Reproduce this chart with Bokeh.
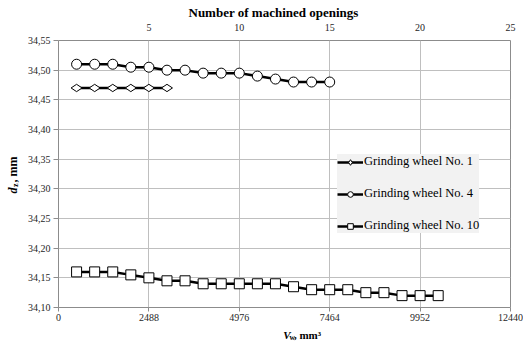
import math
from bokeh.plotting import figure
from bokeh.layouts import row, column
from bokeh.models import (Range1d, LinearAxis, FixedTicker, CustomJSTickFormatter,
                          Legend, LegendItem)
from bokeh.core.properties import value
from bokeh.embed import file_html
from bokeh.resources import INLINE

# ---- data ----
openings_w1 = [1, 2, 3, 4, 5, 6]
d_w1 = [34.47, 34.47, 34.47, 34.47, 34.47, 34.47]

openings_w4 = [1, 2, 3, 4, 5, 6, 7, 8, 9, 10, 11, 12, 13, 14, 15]
d_w4 = [34.51, 34.51, 34.51, 34.505, 34.505, 34.50, 34.50, 34.495, 34.495,
        34.495, 34.49, 34.485, 34.48, 34.48, 34.48]

openings_w10 = [1, 2, 3, 4, 5, 6, 7, 8, 9, 10, 11, 12, 13, 14, 15, 16, 17, 18, 19, 20, 21]
d_w10 = [34.16, 34.16, 34.16, 34.155, 34.15, 34.145, 34.145, 34.14, 34.14, 34.14,
         34.14, 34.14, 34.135, 34.13, 34.13, 34.13, 34.125, 34.125, 34.12, 34.12, 34.12]

vol_per_opening = 497.6  # mm^3 per opening
x_ticks = [0, 2488, 4976, 7464, 9952, 12440]
top_ticks = [5, 10, 15, 20, 25]
y_ticks = [34.10, 34.15, 34.20, 34.25, 34.30, 34.35, 34.40, 34.45, 34.50, 34.55]
labels = ["Grinding wheel No. 1", "Grinding wheel No. 4", "Grinding wheel No. 10"]
top_title = "Number of machined openings"
x_title_parts = ["V", "w", ", mm³"]
y_title_parts = ["d", "z", ", mm"]

FONT = "Liberation Serif"
GRID = "#bfbfbf"
FRAME = "#8c8c8c"
TXT = "#262626"

LEFT_W = 20
BOTTOM_H = 18
W, H = 523, 344

p = figure(width=W - LEFT_W, height=H - BOTTOM_H, x_range=Range1d(0, 12440),
           y_range=Range1d(34.10, 34.55),
           output_backend="svg", toolbar_location=None,
           min_border_left=58 - LEFT_W, min_border_right=13, min_border_top=40,
           min_border_bottom=19)
p.extra_x_ranges = {"open": Range1d(0, 25)}
p.outline_line_color = FRAME
p.background_fill_color = "white"
p.border_fill_color = "white"

# title of the secondary (top) axis
p.title.text = top_title
p.title.align = "left"
p.title.offset = 130
p.title.standoff = 1
p.title.text_font = FONT
p.title.text_font_size = "13px"
p.title.text_font_style = "bold"
p.title.text_color = "black"

p.xgrid.ticker = FixedTicker(ticks=x_ticks)
p.ygrid.ticker = FixedTicker(ticks=y_ticks)
for g in (p.xgrid, p.ygrid):
    g.grid_line_color = GRID
    g.grid_line_width = 1

# left axis
ya = p.yaxis[0]
ya.ticker = FixedTicker(ticks=y_ticks)
ya.formatter = CustomJSTickFormatter(code="return tick.toFixed(2).replace('.', ',');")
ya.axis_line_color = None
ya.major_tick_line_color = FRAME
ya.major_tick_out = 5
ya.major_tick_in = 0
ya.minor_tick_line_color = None
ya.major_label_text_font = FONT
ya.major_label_text_font_size = "10px"
ya.major_label_text_color = TXT
ya.major_label_standoff = 3

# bottom axis
xa = p.xaxis[0]
xa.ticker = FixedTicker(ticks=x_ticks)
xa.formatter = CustomJSTickFormatter(code="return tick.toFixed(0);")
xa.axis_line_color = None
xa.major_tick_line_color = FRAME
xa.major_tick_out = 4
xa.major_tick_in = 0
xa.minor_tick_line_color = None
xa.major_label_text_font = FONT
xa.major_label_text_font_size = "10px"
xa.major_label_text_color = TXT
xa.major_label_standoff = 2

# top axis
ta = LinearAxis(x_range_name="open", ticker=FixedTicker(ticks=top_ticks))
ta.axis_line_color = None
ta.major_tick_line_color = None
ta.minor_tick_line_color = None
ta.major_label_text_font = FONT
ta.major_label_text_font_size = "10px"
ta.major_label_text_color = TXT
ta.major_label_standoff = 4
p.add_layout(ta, "above")

def vols(op):
    return [n * vol_per_opening for n in op]

series = [
    (openings_w1, d_w1, "diamond", 11, math.pi / 2),
    (openings_w4, d_w4, "circle", 10, 0.0),
    (openings_w10, d_w10, "square", 10, 0.0),
]

nan = float("nan")
items = []
for (op, d, mk, sz, ang), lab in zip(series, labels):
    xs = vols(op)
    p.line(xs, d, line_color="black", line_width=2.5)
    p.scatter(xs, d, marker=mk, size=sz, angle=ang, fill_color="white",
              line_color="black", line_width=1)
    # legend proxies (not drawn in the plot, smaller markers)
    lr = p.line([nan, nan], [nan, nan], line_color="black", line_width=2.5)
    sr = p.scatter([nan], [nan], marker=mk, size=sz * 0.7, angle=ang, fill_color="white",
                   line_color="black", line_width=1)
    items.append(LegendItem(label=lab, renderers=[lr, sr]))

legend = Legend(items=items, location=(279, 74))
legend.background_fill_color = "#f2f2f2"
legend.background_fill_alpha = 1
legend.border_line_color = None
legend.label_text_font = FONT
legend.label_text_font_size = "12.5px"
legend.label_text_color = "black"
legend.glyph_width = 26
legend.glyph_height = 14
legend.label_height = 14
legend.label_standoff = 1
legend.spacing = 17
legend.padding = 9
legend.margin = 0
p.add_layout(legend, "center")


def blank_fig(w, h):
    f = figure(width=w, height=h, x_range=Range1d(0, w), y_range=Range1d(0, h),
               output_backend="svg", toolbar_location=None, min_border=0,
               x_axis_location=None, y_axis_location=None)
    f.grid.visible = False
    f.outline_line_color = None
    f.background_fill_color = "white"
    f.border_fill_color = "white"
    return f

# left title panel: d_z, mm (rotated)
pl = blank_fig(LEFT_W, H)
ly = H - 193
pl.text(x=[12], y=[ly], text=[y_title_parts[0]], angle=math.pi / 2,
        text_font=value(FONT), text_font_style="bold italic", text_font_size="12px",
        text_baseline="middle", text_align="left", text_color="black")
pl.text(x=[15], y=[ly + 6.5], text=[y_title_parts[1]], angle=math.pi / 2,
        text_font=value(FONT), text_font_style="bold", text_font_size="8px",
        text_baseline="middle", text_align="left", text_color="black")
pl.text(x=[12], y=[ly + 11], text=[y_title_parts[2]], angle=math.pi / 2,
        text_font=value(FONT), text_font_style="bold", text_font_size="12px",
        text_baseline="middle", text_align="left", text_color="black")

# bottom title panel: V_w, mm³
pb = blank_fig(W - LEFT_W, BOTTOM_H)
bx, byy = 270 - LEFT_W, H - 334
pb.text(x=[bx], y=[byy], text=[x_title_parts[0]],
        text_font=value(FONT), text_font_style="bold italic", text_font_size="11px",
        text_baseline="middle", text_align="left", text_color="black")
pb.text(x=[bx + 7], y=[byy - 3], text=[x_title_parts[1]],
        text_font=value(FONT), text_font_style="bold", text_font_size="7.5px",
        text_baseline="middle", text_align="left", text_color="black")
pb.text(x=[bx + 12], y=[byy], text=[x_title_parts[2]],
        text_font=value(FONT), text_font_style="bold", text_font_size="11px",
        text_baseline="middle", text_align="left", text_color="black")

layout = row(pl, column(p, pb, spacing=0), spacing=0)

open("out.html", "w").write(file_html(layout, INLINE))
